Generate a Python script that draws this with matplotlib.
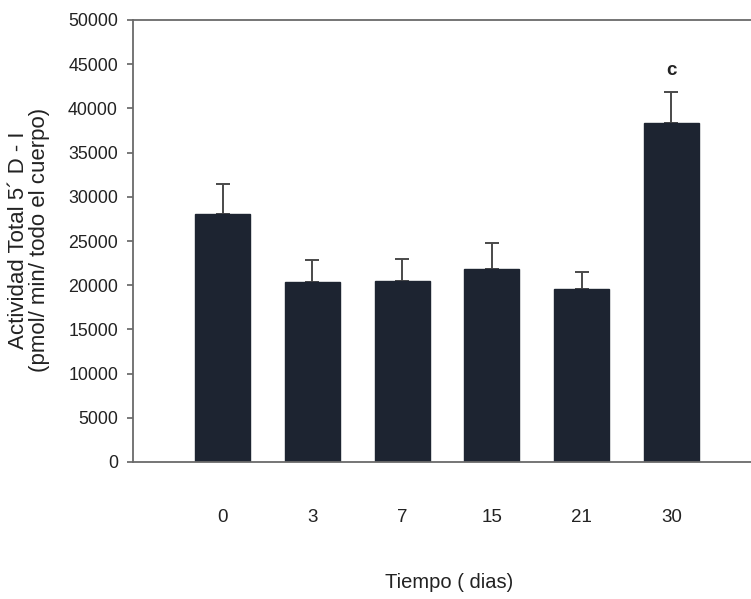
import matplotlib
matplotlib.use("Agg")
import matplotlib.pyplot as plt
import numpy as np

plt.rcParams['font.family'] = ['Liberation Sans', 'DejaVu Sans']

days = ["0", "3", "7", "15", "21", "30"]
activity = [28000, 20350, 20500, 21850, 19550, 38400]
sem = [3450, 2550, 2500, 2950, 1950, 3400]
annotations = ["", "", "", "", "", "c"]

fig = plt.figure(figsize=(7.51, 5.99), dpi=100)
ax = fig.add_axes([133 / 751, 137 / 599, 628 / 751, 442 / 599])

x = np.arange(len(days))
ax.bar(x, activity, width=0.61, color="#1d2431", edgecolor="#1d2431", zorder=2)
ax.errorbar(x, activity, yerr=[np.zeros(len(sem)), sem], fmt="none",
            ecolor="#4a4a4a", elinewidth=1.4, capsize=4.8, capthick=1.4, zorder=1)

for xi, yi, e, t in zip(x, activity, sem, annotations):
    if t:
        ax.text(xi, yi + e + 2450, t, ha="center", va="center",
                fontsize=13.5, fontweight="bold", color="#222222")

ax.set_xlim(-1, 6)
ax.set_ylim(0, 50000)
ax.set_yticks(np.arange(0, 50001, 5000))
ax.set_yticklabels([str(v) for v in range(0, 50001, 5000)])
ax.set_xticks(x)
ax.set_xticklabels(days)

ax.tick_params(axis="y", length=4.3, width=1.1, color="#555555", pad=6.5,
               labelsize=12.8, labelcolor="#222222")
ax.tick_params(axis="x", length=0, pad=34, labelsize=13.5, labelcolor="#222222")

for side in ("left", "top", "bottom"):
    ax.spines[side].set_color("#6a6a6a")
    ax.spines[side].set_linewidth(1.3)
ax.spines["right"].set_visible(False)

fig.text(449 / 751, 1 - 582 / 599, "Tiempo ( dias)", ha="center", va="center",
         fontsize=14.5, color="#222222")
fig.text(29 / 751, 1 - 240 / 599,
         "Actividad Total 5\u00b4 D - I\n(pmol/ min/ todo el cuerpo)",
         ha="center", va="center", rotation=90, fontsize=16,
         color="#222222", linespacing=0.95, multialignment="center")

fig.savefig("out.png", dpi=100)
